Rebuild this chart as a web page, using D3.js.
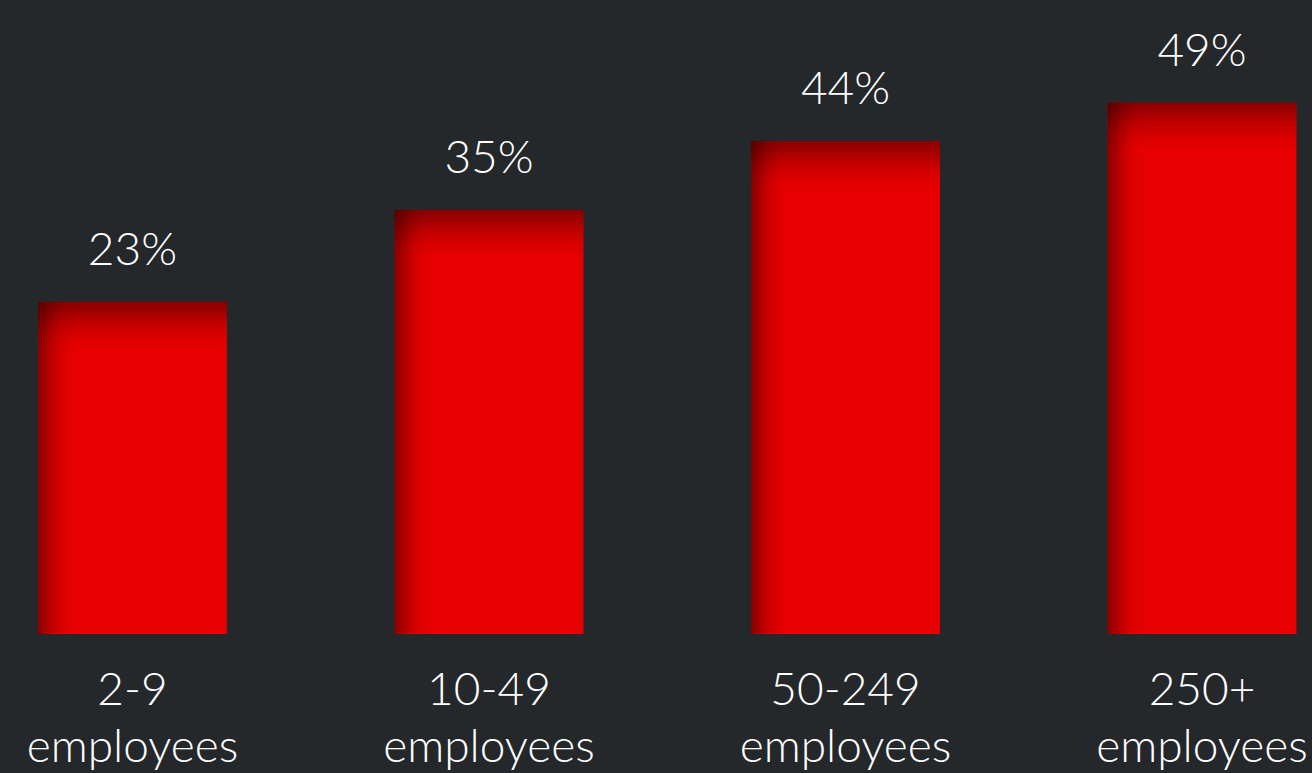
<!DOCTYPE html>
<html>
<head>
<meta charset="utf-8">
<script src="https://cdn.jsdelivr.net/npm/d3@7"></script>
<style>
  html, body { margin: 0; padding: 0; background: #24282b; }
  svg { display: block; }
  text { font-family: "Lato", "Open Sans", sans-serif; font-weight: 300; fill: #ffffff; }
</style>
</head>
<body>
<svg id="chart" width="1312" height="773"></svg>
<script>
// Share of businesses by company size
const sizeBands = ["2-9", "10-49", "50-249", "250+"];
const sizeUnit = "employees";
const shares = [23, 35, 44, 49];

const baseline = 634;

const svg = d3.select("#chart");

const x = d3.scaleBand()
  .domain(sizeBands)
  .range([38, 1296.5])
  .paddingInner(0.47)
  .paddingOuter(0);

const y = d3.scaleLinear()
  .domain([0, 50])
  .range([478, 95]);

// soft inner shading along the top and left edges of each bar
const defs = svg.append("defs");
function shade(id, horizontal, stops) {
  const gr = defs.append("linearGradient")
    .attr("id", id)
    .attr("x1", 0).attr("y1", 0)
    .attr("x2", horizontal ? 1 : 0).attr("y2", horizontal ? 0 : 1);
  stops.forEach(([o, a]) => gr.append("stop")
    .attr("offset", o).attr("stop-color", "#000").attr("stop-opacity", a));
}
shade("topShade", false, [[0, 0.4], [0.2, 0.3], [0.45, 0.16], [0.7, 0.06], [1, 0]]);
shade("leftShade", true, [[0, 0.4], [0.2, 0.28], [0.45, 0.13], [0.7, 0.04], [1, 0]]);

const data = sizeBands.map((b, i) => ({ band: b, value: shares[i] }));

const g = svg.append("g").selectAll("g.bar").data(data).join("g").attr("class", "bar");

g.append("rect")
  .attr("x", d => x(d.band))
  .attr("y", d => y(d.value))
  .attr("width", x.bandwidth())
  .attr("height", d => baseline - y(d.value))
  .attr("fill", "#e60000");

g.append("rect")
  .attr("x", d => x(d.band))
  .attr("y", d => y(d.value))
  .attr("width", x.bandwidth())
  .attr("height", 48)
  .attr("fill", "url(#topShade)");

g.append("rect")
  .attr("x", d => x(d.band))
  .attr("y", d => y(d.value))
  .attr("width", 36)
  .attr("height", d => baseline - y(d.value))
  .attr("fill", "url(#leftShade)");

// value labels
g.append("text")
  .attr("x", d => x(d.band) + x.bandwidth() / 2)
  .attr("y", d => y(d.value) - 37)
  .attr("text-anchor", "middle")
  .attr("font-size", 46)
  .text(d => d.value + "%");

// category labels
const labels = svg.append("g").selectAll("text").data(data).join("text")
  .attr("text-anchor", "middle")
  .attr("font-size", 46);
labels.append("tspan")
  .attr("x", d => x(d.band) + x.bandwidth() / 2)
  .attr("y", 705)
  .text(d => d.band);
labels.append("tspan")
  .attr("x", d => x(d.band) + x.bandwidth() / 2)
  .attr("y", 762)
  .text(sizeUnit);
</script>
</body>
</html>
